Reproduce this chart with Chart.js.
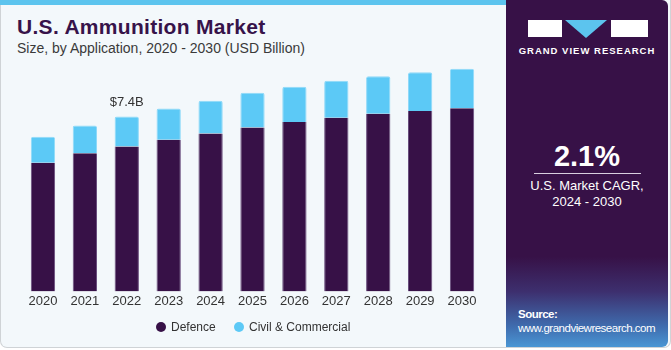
<!DOCTYPE html>
<html>
<head>
<meta charset="utf-8">
<script src="https://cdn.jsdelivr.net/npm/chart.js@4"></script>
<style>
  html, body { margin: 0; padding: 0; }
  body { width: 671px; height: 350px; position: relative; overflow: hidden; background: #fff; font-family: "Liberation Sans", Arial, sans-serif; }
  .card { position: absolute; left: 0; top: 0; width: 669px; height: 347px; background: #f3f8fb; border: 1px solid #cfd3d6; border-top: none; border-radius: 0 0 7px 7px; }
  .stripe { position: absolute; left: 0; top: 0; width: 506px; height: 5px; background: #5cc4ee; }
  .title { position: absolute; left: 17px; top: 15px; font-size: 21px; font-weight: bold; color: #37134a; letter-spacing: 0.3px; }
  .subtitle { position: absolute; left: 17px; top: 40px; font-size: 14px; color: #3a3a3a; }
  .panel { position: absolute; left: 506px; top: 0; width: 162px; height: 347px; border-radius: 0 6px 6px 0;
    background: linear-gradient(to bottom, #371147 0%, #371147 74%, #3d2f6e 84%, #3f6cae 94%, #4a96d4 100%); }
  .logo { position: absolute; top: 20px; height: 17px; background: #fff; }
  .tri { position: absolute; left: 59px; top: 20px; width: 0; height: 0; border-left: 21px solid transparent; border-right: 21px solid transparent; border-top: 18px solid #5cc4ee; }
  .brand { position: absolute; left: 0; width: 162px; top: 45px; text-align: center; color: #fff; font-size: 9.5px; font-weight: bold; letter-spacing: 1px; }
  .cagr { position: absolute; left: 0; width: 162px; top: 140px; text-align: center; color: #fff; font-size: 29px; font-weight: bold; }
  .rule { position: absolute; left: 28px; width: 107px; top: 173px; height: 1px; background: #d9cfe0; }
  .cagrtxt { position: absolute; left: 0; width: 162px; top: 178px; text-align: center; color: #fff; font-size: 13px; line-height: 16px; }
  .src { position: absolute; left: 12px; top: 307px; color: #fff; font-size: 11.5px; line-height: 14px; letter-spacing: -0.5px; }
  #wrap { position: absolute; left: 0; top: 50px; width: 500px; height: 297px; }
  .legend { position: absolute; top: 319px; left: 0; height: 16px; font-size: 12px; color: #333; line-height: 16px; }
  .legend span { position: absolute; white-space: nowrap; }
  .legend i { position: absolute; top: 3px; width: 10px; height: 10px; border-radius: 50%; }
</style>
</head>
<body>
<div class="card"></div>
<div class="stripe"></div>
<div class="title">U.S. Ammunition Market</div>
<div class="subtitle">Size, by Application, 2020 - 2030 (USD Billion)</div>
<div class="panel">
  <div class="logo" style="left:22px;width:34px;"></div>
  <div class="tri"></div>
  <div class="logo" style="left:105px;width:37px;"></div>
  <div class="brand">GRAND VIEW RESEARCH</div>
  <div class="cagr">2.1%</div>
  <div class="rule"></div>
  <div class="cagrtxt">U.S. Market CAGR,<br>2024 - 2030</div>
  <div class="src"><b>Source:</b><br>www.grandviewresearch.com</div>
</div>
<div id="wrap"><canvas id="chart"></canvas></div>
<div class="legend" id="legend"></div>

<script>
// ----------------------------
// DATA
// ----------------------------
const years = ["2020", "2021", "2022", "2023", "2024", "2025", "2026", "2027", "2028", "2029", "2030"];
const defence = [5.44, 5.84, 6.13, 6.41, 6.68, 6.93, 7.17, 7.35, 7.51, 7.63, 7.75];
const civilCommercial = [1.10, 1.18, 1.27, 1.33, 1.39, 1.47, 1.49, 1.56, 1.59, 1.64, 1.67];
const seriesNames = ["Defence", "Civil & Commercial"];
const seriesColors = ["#371147", "#5cc9f6"];
const annotatedIndex = 2;
const annotationText = "$7.4B";

// ----------------------------
// LABEL PLUGIN
// ----------------------------
const valueLabel = {
  id: "valueLabel",
  afterDatasetsDraw(chart) {
    const meta = chart.getDatasetMeta(1);
    const bar = meta.data[annotatedIndex];
    if (!bar) return;
    const c = chart.ctx;
    c.save();
    c.font = "13px 'Liberation Sans', Arial, sans-serif";
    c.fillStyle = "#333";
    c.textAlign = "center";
    c.textBaseline = "bottom";
    c.fillText(annotationText, bar.x, bar.y - 8);
    c.restore();
  },
};

// ----------------------------
// CHART
// ----------------------------
new Chart(document.getElementById("chart"), {
  type: "bar",
  data: {
    labels: years,
    datasets: [
      {
        label: seriesNames[0],
        data: defence,
        backgroundColor: seriesColors[0],
        borderColor: "#6a4f7e",
        borderWidth: { left: 1, right: 1, top: 0, bottom: 0 },
        barPercentage: 0.58,
        categoryPercentage: 1,
      },
      {
        label: seriesNames[1],
        data: civilCommercial,
        backgroundColor: seriesColors[1],
        borderColor: "#8fd9f8",
        borderWidth: { left: 1, right: 1, top: 1, bottom: 0 },
        borderRadius: { topLeft: 2, topRight: 2 },
        borderSkipped: "bottom",
        barPercentage: 0.58,
        categoryPercentage: 1,
      },
    ],
  },
  options: {
    responsive: true,
    maintainAspectRatio: false,
    animation: false,
    layout: { padding: { left: 22, right: 17, top: 5, bottom: 36 } },
    plugins: {
      legend: { display: false },
      tooltip: { enabled: false },
    },
    scales: {
      x: {
        stacked: true,
        grid: { display: false, drawTicks: false },
        border: { display: false },
        ticks: {
          color: "#333",
          padding: 2,
          font: { family: "'Liberation Sans', Arial, sans-serif", size: 13 },
        },
      },
      y: {
        stacked: true,
        display: false,
        min: 0,
        max: 10,
      },
    },
  },
  plugins: [valueLabel],
});

// ----------------------------
// HTML LEGEND
// ----------------------------
const legendEl = document.getElementById("legend");
const legendX = [156, 234];
seriesNames.forEach((name, i) => {
  const dot = document.createElement("i");
  dot.style.left = legendX[i] + "px";
  dot.style.background = seriesColors[i];
  const txt = document.createElement("span");
  txt.style.left = legendX[i] + 15 + "px";
  txt.textContent = name;
  legendEl.appendChild(dot);
  legendEl.appendChild(txt);
});
</script>
</body>
</html>
